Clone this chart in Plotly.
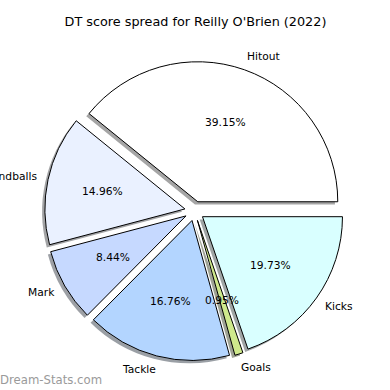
import math
import plotly.graph_objects as go

# ---- data ----
categories = ["Hitout", "Handballs", "Mark", "Tackle", "Goals", "Kicks"]
shares = [39.15, 14.96, 8.44, 16.76, 0.95, 19.73]
slice_colors = ["#ffffff", "#eaf1ff", "#c6d9ff", "#b3d5ff", "#cfe98c", "#d9ffff"]
title_text = "DT score spread for Reilly O'Brien (2022)"
watermark = "Dream-Stats.com"

# ---- layout constants ----
W = H = 390
PULL = 0.07
R_PX = 140.0
CX_PX, CY_PX = 194.5, 211.0          # centre in image pixels
SHADOW_PX = 2.8
FONT = "DejaVu Sans"

total = sum(shares)
# plotly ccw: first slice spans [rotation, rotation + v1] clockwise-from-top;
# we want it to start at 3 o'clock and run counterclockwise
rot = 90 - 360 * shares[0] / total

box = 2 * R_PX * (1 + PULL)
def dom(cx, cy):
    x0 = (cx - box / 2) / W
    x1 = (cx + box / 2) / W
    y0 = 1 - (cy + box / 2) / H
    y1 = 1 - (cy - box / 2) / H
    return dict(x=[x0, x1], y=[y0, y1])

def shade(hexc):
    r, g, b = int(hexc[1:3], 16), int(hexc[3:5], 16), int(hexc[5:7], 16)
    return f"rgba({int(r*0.3)},{int(g*0.3)},{int(b*0.3)},0.5)"

fig = go.Figure()
# shadow
fig.add_trace(go.Pie(
    values=shares, labels=categories, sort=False, direction="counterclockwise",
    rotation=rot, pull=[PULL] * len(shares), textinfo="none", hoverinfo="skip",
    marker=dict(colors=[shade(c) for c in slice_colors], line=dict(width=0)),
    domain=dom(CX_PX - SHADOW_PX, CY_PX + SHADOW_PX), showlegend=False,
))
# main pie
fig.add_trace(go.Pie(
    values=shares, labels=categories, sort=False, direction="counterclockwise",
    rotation=rot, pull=[PULL] * len(shares), textinfo="none",
    marker=dict(colors=slice_colors, line=dict(color="black", width=1)),
    domain=dom(CX_PX, CY_PX), showlegend=False,
))

# text annotations (matplotlib-style placement)
cum = 0.0
annotations = []
for lab, v in zip(categories, shares):
    t1 = 360 * cum / total
    cum += v
    t2 = 360 * cum / total
    tm = math.radians((t1 + t2) / 2)
    c, s = math.cos(tm), math.sin(tm)
    # label
    d = (1.1 + PULL) * R_PX
    lx, ly = CX_PX + d * c, CY_PX - d * s
    annotations.append(dict(
        x=lx / W, y=1 - ly / H, xref="paper", yref="paper", text=lab,
        showarrow=False, xanchor="left" if c > 0 else "right", yanchor="middle",
        xshift=-2.5 if c > 0 else 2.5,
        font=dict(family=FONT, size=10.7, color="black"), borderpad=0, borderwidth=0,
    ))
    # percentage
    d = (0.6 + PULL) * R_PX
    px_, py_ = CX_PX + d * c, CY_PX - d * s
    annotations.append(dict(
        x=px_ / W, y=1 - py_ / H, xref="paper", yref="paper",
        text=f"{100 * v / total:.2f}%", showarrow=False,
        xanchor="center", yanchor="middle",
        font=dict(family=FONT, size=10.7, color="black"), borderpad=0, borderwidth=0,
    ))

annotations.append(dict(
    x=0, y=1 - 380 / H, xref="paper", yref="paper", text=watermark,
    showarrow=False, xanchor="left", yanchor="middle",
    font=dict(family=FONT, size=11.7, color="#9a9a9a"), borderpad=0, borderwidth=0,
))

fig.update_layout(
    width=W, height=H, margin=dict(l=0, r=0, t=0, b=0),
    paper_bgcolor="white", plot_bgcolor="white",
    title=dict(text=title_text, x=195.5 / W, y=1 - 22 / H, xanchor="center",
               yanchor="middle", font=dict(family=FONT, size=12.8, color="black")),
    annotations=annotations,
)
fig.write_html("out.html", config={"displayModeBar": False},
               post_script="document.body.style.margin='0';document.body.style.overflow='hidden';")
